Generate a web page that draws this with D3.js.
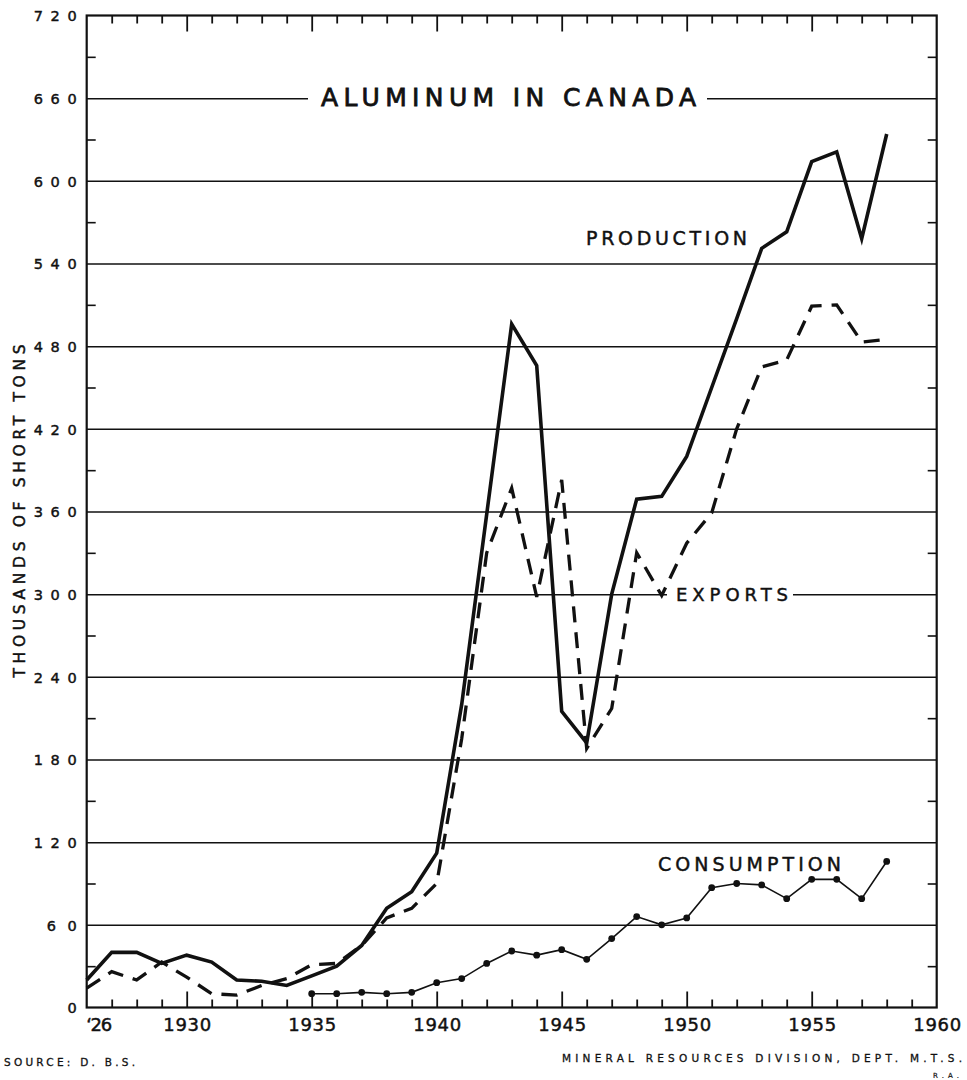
<!DOCTYPE html>
<html>
<head>
<meta charset="utf-8">
<script src="https://cdn.jsdelivr.net/npm/d3@7"></script>
<style>
  html, body { margin: 0; padding: 0; background: #fff; }
  svg { display: block; }
  text { font-family: "DejaVu Sans", sans-serif; fill: #111; stroke: #111; stroke-width: 0.45px; }
</style>
</head>
<body>
<script>
// ---------- DATA ----------
const years = d3.range(1926, 1959);            // 1926..1958
const production = [20,40,40,32,38,33,20,19,16,23,30,45,72,84,112,220,358,496,466,215,192,300,369,371,400,450,500,551,563,614,621,558,634];
const exportsV   = [14,26,20,33,22,10,9,16,21,31,32,45,65,72,90,195,330,377,298,383,188,217,330,299,337,359,420,465,470,509,510,483,485];
const consYears  = d3.range(1935, 1959);        // 1935..1958
const consumption = [10,10,11,10,11,18,21,32,41,38,42,35,50,66,60,65,87,90,89,79,93,93,79,106];
const yTickValues = [0,60,120,180,240,300,360,420,480,540,600,660,720];
const yTickLabels = ["0","6 0","1 2 0","1 8 0","2 4 0","3 0 0","3 6 0","4 2 0","4 8 0","5 4 0","6 0 0","6 6 0","7 2 0"];
const xMajorValues = [1926,1930,1935,1940,1945,1950,1955,1960];
const xMajorLabels = ["\u201826","1930","1935","1940","1945","1950","1955","1960"];

// ---------- LAYOUT ----------
const W = 967, H = 1080;
const svg = d3.select("body").append("svg").attr("width", W).attr("height", H);
const x = d3.scaleLinear().domain([1926, 1960]).range([86.7, 936.7]);
const y = d3.scaleLinear().domain([0, 720]).range([1007.5, 15.5]);
const L = x.range()[0], R = x.range()[1], T = y.range()[1], B = y.range()[0];
const ink = "#111";

// gridlines every 60
const grid = svg.append("g").attr("transform", `translate(${L},0)`)
  .call(d3.axisLeft(y).tickValues(yTickValues.slice(1, -1)).tickSize(-(R - L)).tickFormat(""));
grid.select(".domain").remove();
grid.selectAll("line").attr("stroke", ink).attr("stroke-width", 1.5);

// minor y ticks (odd 30s) on left and right
const minorY = d3.range(30, 720, 60);
const lt = svg.append("g").attr("transform", `translate(${L},0)`)
  .call(d3.axisLeft(y).tickValues(minorY).tickSize(-9).tickFormat(""));
lt.select(".domain").remove();
lt.selectAll("line").attr("stroke", ink).attr("stroke-width", 1.6);
const rt = svg.append("g").attr("transform", `translate(${R},0)`)
  .call(d3.axisRight(y).tickValues(minorY).tickSize(-9).tickFormat(""));
rt.select(".domain").remove();
rt.selectAll("line").attr("stroke", ink).attr("stroke-width", 1.6);

// x ticks bottom & top
const allYears = d3.range(1927, 1960);
const minorX = allYears.filter(v => v % 5 !== 0);
const majorX = allYears.filter(v => v % 5 === 0);
function xTicks(gen, ypos, vals, size) {
  const g = svg.append("g").attr("transform", `translate(0,${ypos})`)
    .call(gen(x).tickValues(vals).tickSize(size).tickFormat(""));
  g.select(".domain").remove();
  g.selectAll("line").attr("stroke", ink).attr("stroke-width", 1.8);
}
xTicks(d3.axisBottom, B, minorX, -8);
xTicks(d3.axisBottom, B, majorX, -16);
xTicks(d3.axisTop, T, minorX, -8);
xTicks(d3.axisTop, T, majorX, -16);

// frame
svg.append("rect").attr("x", L).attr("y", T).attr("width", R - L).attr("height", B - T)
  .attr("fill", "none").attr("stroke", ink).attr("stroke-width", 2.2);

// y tick labels
const yl = svg.append("g").attr("transform", `translate(${L - 10},0)`)
  .call(d3.axisLeft(y).tickValues(yTickValues).tickSize(0).tickFormat((d, i) => yTickLabels[i]));
yl.select(".domain").remove();
yl.selectAll("text")
  .style("font-family", '"DejaVu Sans", sans-serif')
  .style("font-size", "14.5px").attr("fill", ink)
  .attr("x", 0).attr("dy", "0.36em")
  .each(function(d, i) {
    const s = yTickLabels[i];
    const n = s.replace(/ /g, "").length;
    if (n === 3) d3.select(this).attr("textLength", 43).attr("lengthAdjust", "spacing");
    if (n === 2) d3.select(this).attr("textLength", 30).attr("lengthAdjust", "spacing");
  });

// x tick labels
const xl = svg.append("g").attr("transform", `translate(0,${B + 8})`)
  .call(d3.axisBottom(x).tickValues(xMajorValues).tickSize(0).tickFormat((d, i) => xMajorLabels[i]));
xl.select(".domain").remove();
xl.selectAll("text")
  .style("font-family", '"DejaVu Sans", sans-serif')
  .style("font-size", "18px").attr("fill", ink)
  .each(function(d, i) {
    const t = d3.select(this);
    if (i === 0) { t.attr("textLength", 26).attr("lengthAdjust", "spacing").attr("x", 12); }
    else t.attr("textLength", 48).attr("lengthAdjust", "spacing");
  });

// ---------- LINES ----------
const line = d3.line().x(d => x(d[0])).y(d => y(d[1]));
const prodPts = years.map((yr, i) => [yr, production[i]]);
const expPts = years.map((yr, i) => [yr, exportsV[i]]);
const consPts = consYears.map((yr, i) => [yr, consumption[i]]);

svg.append("path").datum(consPts).attr("d", line)
  .attr("fill", "none").attr("stroke", ink).attr("stroke-width", 1.6);
svg.append("g").selectAll("circle").data(consPts).join("circle")
  .attr("cx", d => x(d[0])).attr("cy", d => y(d[1])).attr("r", 3.4).attr("fill", ink);

svg.append("path").datum(expPts).attr("d", line)
  .attr("fill", "none").attr("stroke", ink).attr("stroke-width", 3.3)
  .attr("stroke-dasharray", "16,10").attr("stroke-linejoin", "miter");

svg.append("path").datum(prodPts).attr("d", line)
  .attr("fill", "none").attr("stroke", ink).attr("stroke-width", 3.6)
  .attr("stroke-linejoin", "miter");

// ---------- TEXT LABELS ----------
// title on the 660 gridline, with gap
svg.append("rect").attr("x", 308).attr("y", y(660) - 16).attr("width", 399).attr("height", 32).attr("fill", "#fff");
svg.append("text").attr("x", 321).attr("y", y(660) + 8)
  .attr("textLength", 375).attr("lengthAdjust", "spacing")
  .style("font-size", "25px").style("stroke-width", "0.8px").text("ALUMINUM IN CANADA");

svg.append("text").attr("x", 586).attr("y", 245)
  .attr("textLength", 161).attr("lengthAdjust", "spacing")
  .style("font-size", "19px").text("PRODUCTION");

svg.append("rect").attr("x", 667).attr("y", y(300) - 12).attr("width", 126).attr("height", 24).attr("fill", "#fff");
svg.append("text").attr("x", 676).attr("y", y(300) + 7)
  .attr("textLength", 112).attr("lengthAdjust", "spacing")
  .style("font-size", "18px").text("EXPORTS");

svg.append("text").attr("x", 658).attr("y", 871)
  .attr("textLength", 183).attr("lengthAdjust", "spacing")
  .style("font-size", "19px").text("CONSUMPTION");

// y axis title
svg.append("text").attr("transform", "translate(25,511) rotate(-90)")
  .attr("text-anchor", "middle").attr("textLength", 333).attr("lengthAdjust", "spacing")
  .style("font-size", "15.5px").text("THOUSANDS OF SHORT TONS");

// footers
svg.append("text").attr("x", 4).attr("y", 1066)
  .attr("textLength", 131).attr("lengthAdjust", "spacing")
  .style("font-size", "10.5px").style("stroke-width", "0.3px").text("SOURCE: D. B.S.");
svg.append("text").attr("x", 562).attr("y", 1062)
  .attr("textLength", 400).attr("lengthAdjust", "spacing")
  .style("font-size", "10.5px").style("stroke-width", "0.3px").text("MINERAL RESOURCES DIVISION, DEPT. M.T.S.");
svg.append("text").attr("x", 933).attr("y", 1078)
  .attr("textLength", 26).attr("lengthAdjust", "spacing")
  .style("font-size", "7px").style("stroke-width", "0.2px").text("R.A.");
</script>
</body>
</html>
